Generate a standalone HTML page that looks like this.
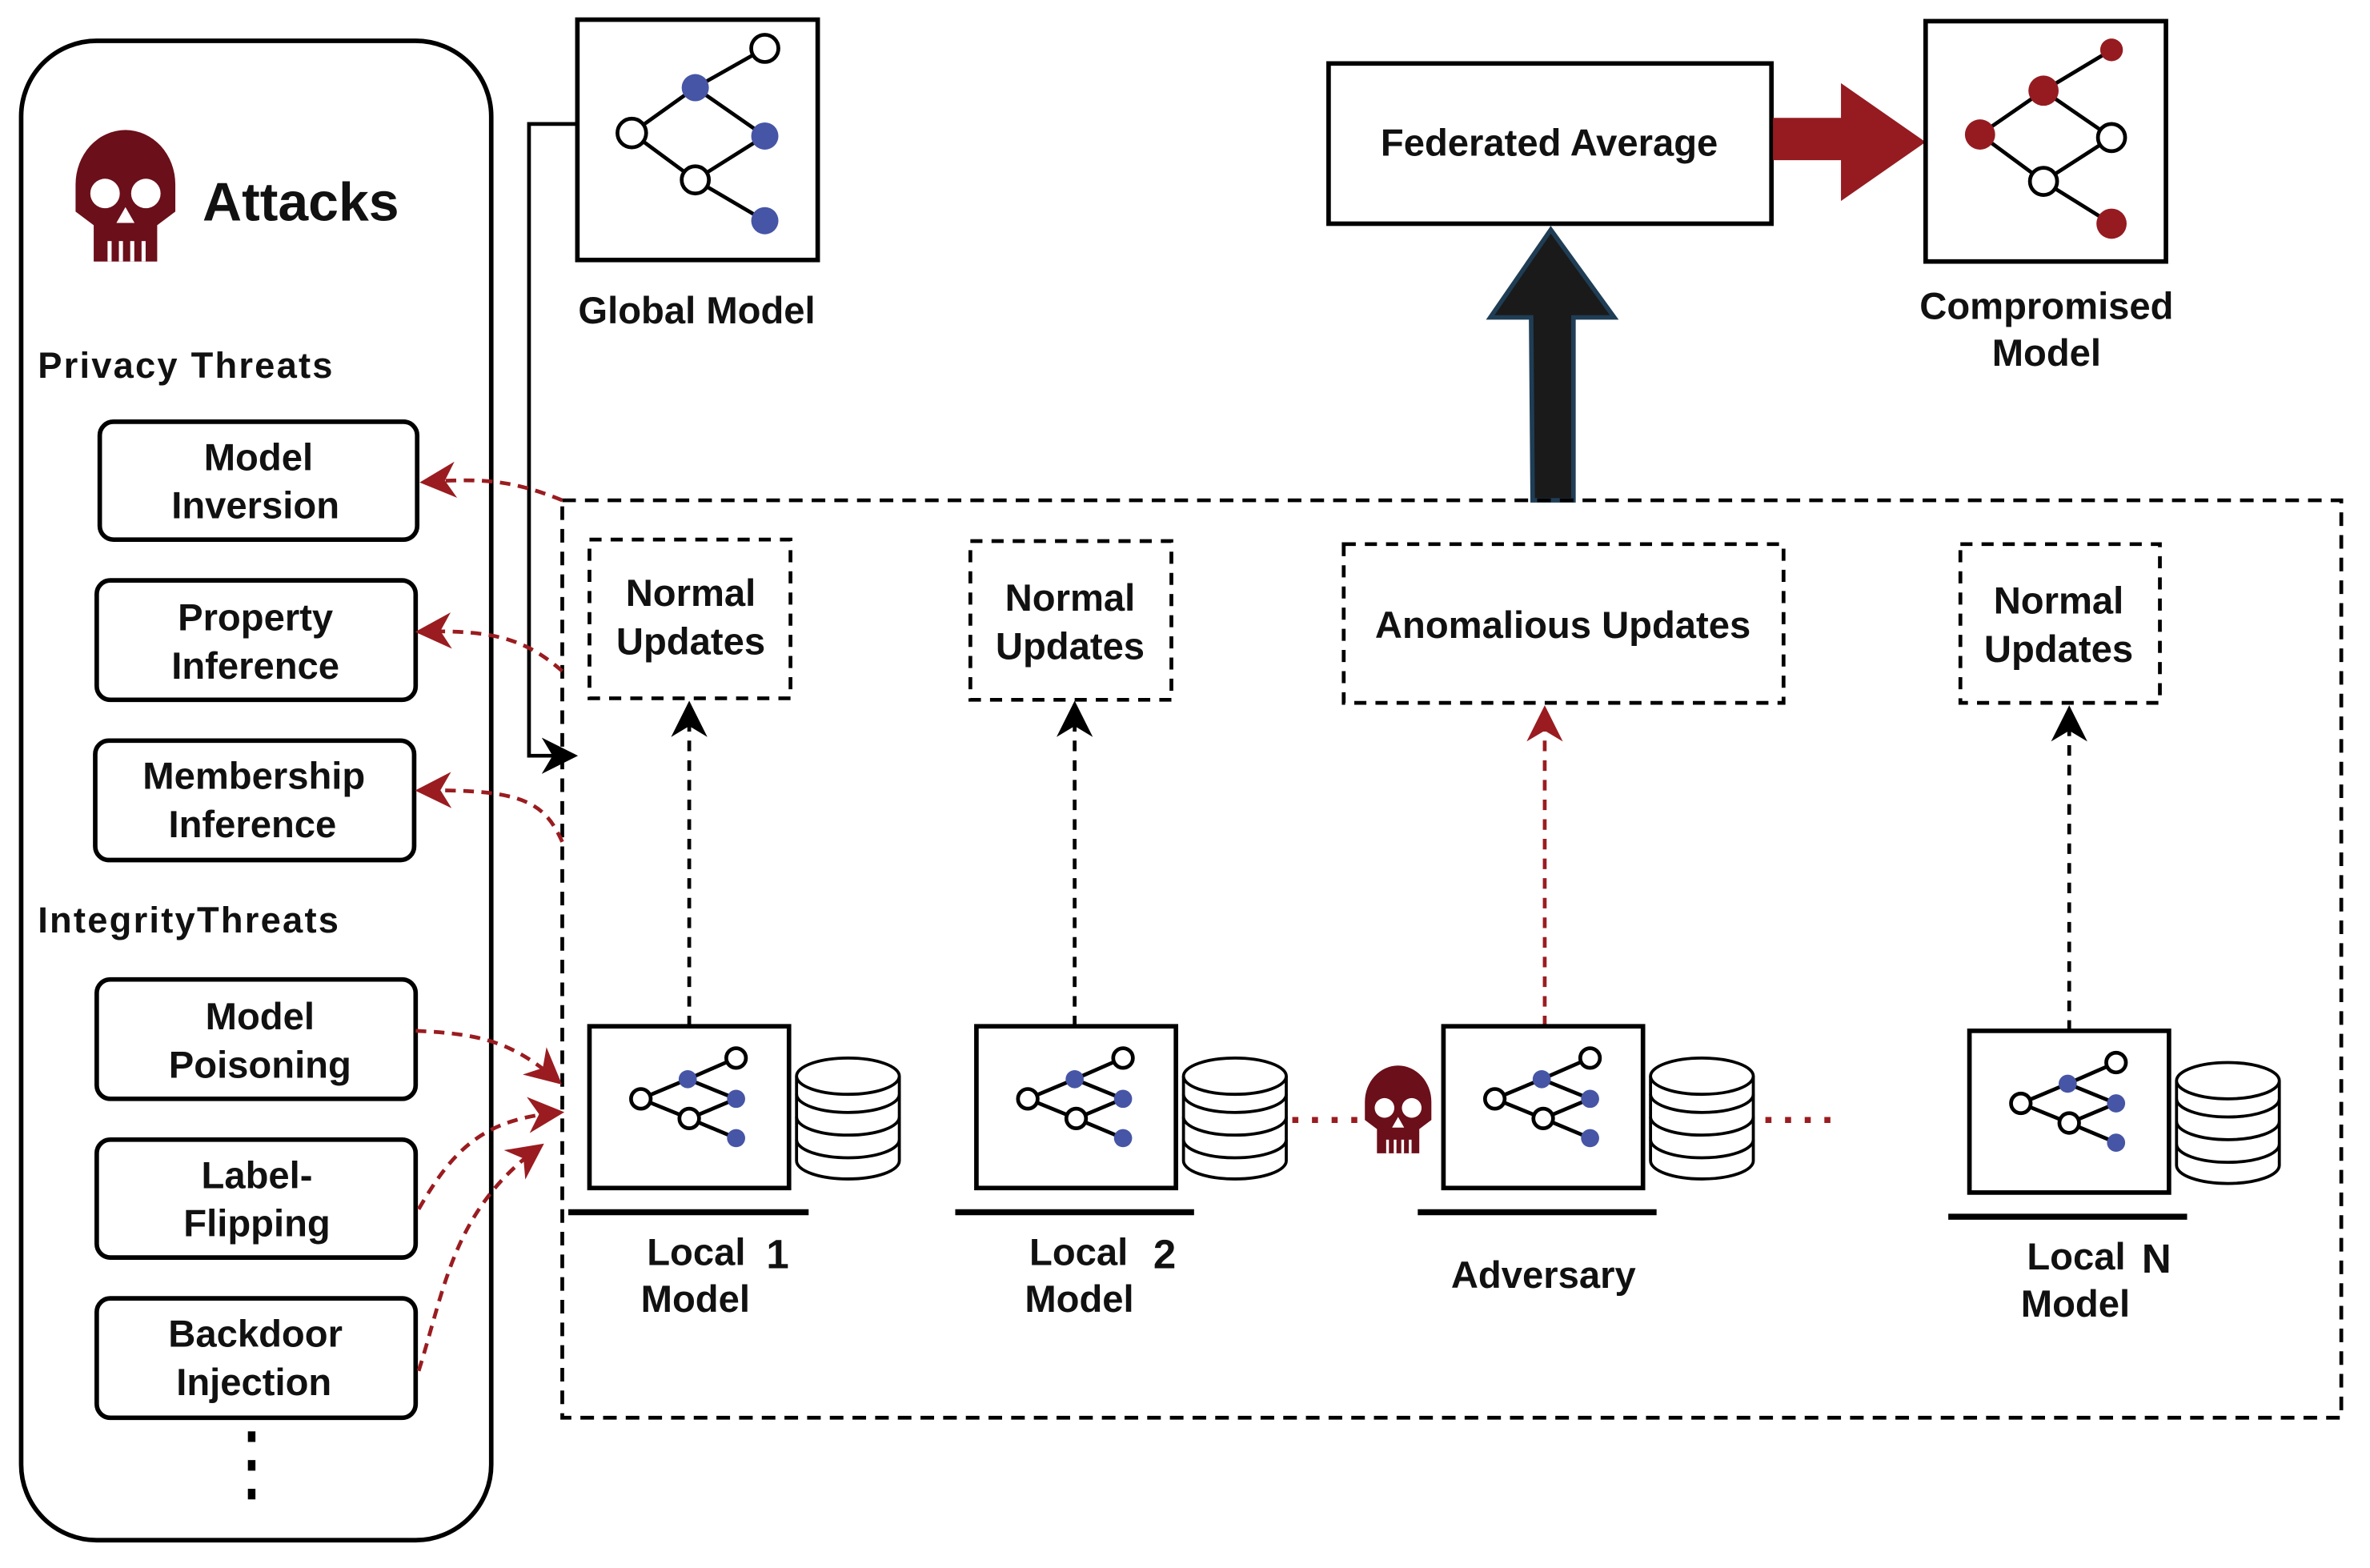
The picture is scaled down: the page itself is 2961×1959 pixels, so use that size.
<!DOCTYPE html>
<html><head><meta charset="utf-8"><style>
html,body{margin:0;padding:0;background:#fff;}
svg{display:block;}
text{font-family:"Liberation Sans",sans-serif;font-weight:bold;fill:#111;}
</style></head><body>
<svg width="2961" height="1959" viewBox="0 0 1568 1037.4" preserveAspectRatio="none" xmlns="http://www.w3.org/2000/svg">
<defs>
<marker id="ar" viewBox="0 0 10 10" refX="9" refY="5" markerWidth="24" markerHeight="24" orient="auto" markerUnits="userSpaceOnUse"><path d="M0,0 L10,5 L0,10 L3,5 z" fill="#9a1c20"/></marker>
<marker id="abk" viewBox="0 0 10 10" refX="9" refY="5" markerWidth="24" markerHeight="24" orient="auto" markerUnits="userSpaceOnUse"><path d="M0,0 L10,5 L0,10 L3,5 z" fill="#000"/></marker>
<g id="local">
<rect x="0" y="0" width="132" height="107" fill="#fff" stroke="#000" stroke-width="3"/>
<g stroke="#000" stroke-width="2.5" fill="none">
<line x1="34" y1="48" x2="65" y2="35"/><line x1="34" y1="48" x2="66" y2="61"/>
<line x1="65" y1="35" x2="97" y2="21"/><line x1="65" y1="35" x2="97" y2="48"/>
<line x1="66" y1="61" x2="97" y2="48"/><line x1="66" y1="61" x2="97" y2="74"/>
</g>
<circle cx="34" cy="48" r="6.5" fill="#fff" stroke="#000" stroke-width="2.5"/>
<circle cx="66" cy="61" r="6.5" fill="#fff" stroke="#000" stroke-width="2.5"/>
<circle cx="97" cy="21" r="6.5" fill="#fff" stroke="#000" stroke-width="2.5"/>
<circle cx="65" cy="35" r="6" fill="#4655a5"/>
<circle cx="97" cy="48" r="6" fill="#4655a5"/>
<circle cx="97" cy="74" r="6" fill="#4655a5"/>
<g transform="translate(137,21)" fill="#fff" stroke="#000" stroke-width="2">
<path d="M0,12 V68 A34,12 0 0 0 68,68 V12"/>
<path d="M0,39 A34,12 0 0 0 68,39" fill="none"/>
<path d="M0,54 A34,12 0 0 0 68,54" fill="none"/>
<path d="M0,24 A34,12 0 0 0 68,24" fill="none"/>
<ellipse cx="34" cy="12" rx="34" ry="12"/>
</g>
</g>
<g id="skull">
<path d="M-22,-4 A22,24 0 1 1 22,-4 L22,8 L14,14 L14,30 L-14,30 L-14,14 L-22,8 Z" fill="#6b0f1a"/>
<circle cx="-9" cy="0" r="6.5" fill="#fff"/><circle cx="9" cy="0" r="6.5" fill="#fff"/>
<path d="M0,6 L-4,13 L4,13 Z" fill="#fff"/>
<g stroke="#fff" stroke-width="1.8"><line x1="-7" y1="21" x2="-7" y2="30"/><line x1="-2" y1="21" x2="-2" y2="30"/><line x1="3" y1="21" x2="3" y2="30"/><line x1="8" y1="21" x2="8" y2="30"/></g>
</g>
</defs>

<rect x="14" y="27" width="311" height="992" rx="50" fill="#fff" stroke="#000" stroke-width="3"/>
<use href="#skull" transform="translate(83,128) scale(1.5)"/>
<text x="134" y="146" font-size="36">Attacks</text>
<text x="25" y="250" font-size="24" textLength="195">Privacy Threats</text>
<text x="25" y="617" font-size="24" textLength="199">IntegrityThreats</text>
<g fill="#fff" stroke="#000" stroke-width="3">
<rect x="66" y="279" width="210" height="78" rx="9"/>
<rect x="64" y="384" width="211" height="79" rx="9"/>
<rect x="63" y="490" width="211" height="79" rx="9"/>
<rect x="64" y="648" width="211" height="79" rx="9"/>
<rect x="64" y="754" width="211" height="78" rx="9"/>
<rect x="64" y="859" width="211" height="79" rx="9"/>
</g>
<g font-size="25" text-anchor="middle">
<text x="171" y="311">Model</text><text x="169" y="343">Inversion</text>
<text x="169" y="417">Property</text><text x="169" y="449">Inference</text>
<text x="168" y="522">Membership</text><text x="167" y="554">Inference</text>
<text x="172" y="681">Model</text><text x="172" y="713">Poisoning</text>
<text x="170" y="786">Label-</text><text x="170" y="818">Flipping</text>
<text x="169" y="891">Backdoor</text><text x="168" y="923">Injection</text>
</g>
<g fill="#000"><rect x="164" y="947" width="5" height="7"/><rect x="164" y="966" width="5" height="7"/><rect x="164" y="985" width="5" height="7"/></g>

<rect x="382" y="13" width="159" height="159" fill="#fff" stroke="#000" stroke-width="3"/>
<g stroke="#000" stroke-width="2.5"><line x1="418" y1="88" x2="460" y2="58"/><line x1="418" y1="88" x2="460" y2="119"/><line x1="460" y1="58" x2="506" y2="32"/><line x1="460" y1="58" x2="506" y2="90"/><line x1="460" y1="119" x2="506" y2="90"/><line x1="460" y1="119" x2="506" y2="146"/></g>
<circle cx="418" cy="88" r="9.5" fill="#fff" stroke="#000" stroke-width="2.5"/>
<circle cx="460" cy="119" r="9" fill="#fff" stroke="#000" stroke-width="2.5"/>
<circle cx="506" cy="32" r="9" fill="#fff" stroke="#000" stroke-width="2.5"/>
<circle cx="460" cy="58" r="9" fill="#4655a5"/><circle cx="506" cy="90" r="9" fill="#4655a5"/><circle cx="506" cy="146" r="9" fill="#4655a5"/>
<text x="461" y="214" font-size="25" text-anchor="middle">Global Model</text>
<path d="M382,82 H350 V500 H380" fill="none" stroke="#000" stroke-width="2.5" marker-end="url(#abk)"/>

<rect x="879" y="42" width="293" height="106" fill="#fff" stroke="#000" stroke-width="3"/>
<text x="1025" y="103" font-size="25" text-anchor="middle">Federated Average</text>
<path d="M1173,78 H1218 V55 L1274,94 L1218,133 V106 H1173 Z" fill="#951b21"/>
<rect x="1274" y="14" width="159" height="159" fill="#fff" stroke="#000" stroke-width="3"/>
<g stroke="#000" stroke-width="2.5"><line x1="1310" y1="89" x2="1352" y2="60"/><line x1="1310" y1="89" x2="1352" y2="120"/><line x1="1352" y1="60" x2="1397" y2="33"/><line x1="1352" y1="60" x2="1397" y2="91"/><line x1="1352" y1="120" x2="1397" y2="91"/><line x1="1352" y1="120" x2="1397" y2="148"/></g>
<circle cx="1352" cy="120" r="9" fill="#fff" stroke="#000" stroke-width="2.5"/>
<circle cx="1397" cy="91" r="9" fill="#fff" stroke="#000" stroke-width="2.5"/>
<circle cx="1310" cy="89" r="10" fill="#951b21"/><circle cx="1352" cy="60" r="10" fill="#951b21"/><circle cx="1397" cy="33" r="7.5" fill="#951b21"/><circle cx="1397" cy="148" r="10" fill="#951b21"/>
<text x="1354" y="211" font-size="25" text-anchor="middle">Compromised</text>
<text x="1354" y="242" font-size="25" text-anchor="middle">Model</text>

<path d="M1014,331 L1013,210 H986 L1026,152 L1068,210 H1041 V331 Z" fill="#1a1a1a" stroke="#1f3d55" stroke-width="3"/>

<rect x="372" y="331" width="1177" height="607" fill="none" stroke="#000" stroke-width="2.5" stroke-dasharray="9,6"/>

<g fill="none" stroke="#000" stroke-width="2.5" stroke-dasharray="8,6">
<rect x="390" y="357" width="133" height="105"/>
<rect x="642" y="358" width="133" height="105"/>
<rect x="889" y="360" width="291" height="105"/>
<rect x="1297" y="360" width="132" height="105"/>
</g>
<g font-size="25" text-anchor="middle">
<text x="457" y="401">Normal</text><text x="457" y="433">Updates</text>
<text x="708" y="404">Normal</text><text x="708" y="436">Updates</text>
<text x="1034" y="422">Anomalious Updates</text>
<text x="1362" y="406">Normal</text><text x="1362" y="438">Updates</text>
</g>
<g stroke-width="2.5" stroke-dasharray="7,6" fill="none">
<line x1="456" y1="679" x2="456" y2="466" stroke="#000" marker-end="url(#abk)"/>
<line x1="711" y1="679" x2="711" y2="466" stroke="#000" marker-end="url(#abk)"/>
<line x1="1022" y1="679" x2="1022" y2="469" stroke="#9a1c20" marker-end="url(#ar)"/>
<line x1="1369" y1="682" x2="1369" y2="469" stroke="#000" marker-end="url(#abk)"/>
</g>

<use href="#local" x="390" y="679"/>
<use href="#local" x="646" y="679"/>
<use href="#local" x="955" y="679"/>
<use href="#local" x="1303" y="682"/>
<g stroke="#000" stroke-width="4">
<line x1="376" y1="802" x2="535" y2="802"/><line x1="632" y1="802" x2="790" y2="802"/>
<line x1="938" y1="802" x2="1096" y2="802"/><line x1="1289" y1="805" x2="1447" y2="805"/>
</g>
<g font-size="25">
<text x="428" y="837">Local</text><text x="507" y="839" font-size="27">1</text><text x="424" y="868">Model</text>
<text x="681" y="837">Local</text><text x="763" y="839" font-size="27">2</text><text x="678" y="868">Model</text>
<text x="960" y="852">Adversary</text>
<text x="1341" y="840">Local</text><text x="1417" y="842" font-size="27">N</text><text x="1337" y="871">Model</text>
</g>
<g stroke="#9a1c20" stroke-width="4" stroke-dasharray="4,9">
<line x1="855" y1="741" x2="900" y2="741"/><line x1="1168" y1="741" x2="1215" y2="741"/>
</g>
<use href="#skull" transform="translate(925,733)"/>

<g fill="none" stroke="#9a1c20" stroke-width="2.5" stroke-dasharray="7,5">
<path d="M372,331 C340,318 320,316 280,319" marker-end="url(#ar)"/>
<path d="M372,444 C350,425 330,416 277,418" marker-end="url(#ar)"/>
<path d="M372,557 C360,530 345,522 277,523" marker-end="url(#ar)"/>
<path d="M275,682 C320,684 340,690 370,716" marker-end="url(#ar)"/>
<path d="M277,800 C300,760 320,740 371,736" marker-end="url(#ar)"/>
<path d="M277,907 C295,850 300,800 358,758" marker-end="url(#ar)"/>
</g>
</svg>
</body></html>
